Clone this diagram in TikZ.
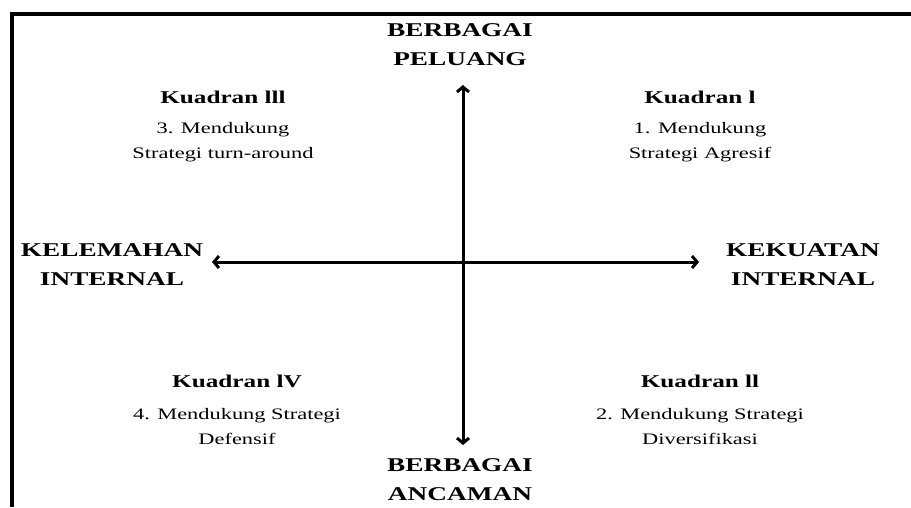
\documentclass[tikz,border=0pt]{standalone}
\usepackage{fontspec}
\setmainfont[FakeStretch=1.4]{Liberation Serif}
\usetikzlibrary{arrows.meta}

\begin{document}
\begin{tikzpicture}[x=1pt, y=-1pt,
    sumbu/.style={draw=black, line width=3pt,
                  {Straight Barb[length=5pt, width=12pt]}-{Straight Barb[length=5pt, width=12pt]}},
    bingkai/.style={draw=black, line width=3.5pt},
    arah/.style={align=center, inner sep=0pt,
                 font=\fontsize{19.5}{29}\selectfont\bfseries},
    kuadran/.style={align=center, inner sep=0pt,
                    font=\fontsize{18}{22}\selectfont\bfseries},
    isi/.style={align=center, inner sep=0pt,
                font=\fontsize{16}{25}\selectfont},
]
\useasboundingbox (0,0) rectangle (911,507);

% Bingkai
\draw[bingkai] (12,507) -- (12,14) -- (911,14);

% Label sumbu
\node[arah] (peluang) at (460,45) {BERBAGAI\\PELUANG};
\node[arah] (ancaman) at (460,480) {BERBAGAI\\ANCAMAN};
\node[arah] (kelemahan) at (112,265) {KELEMAHAN\\INTERNAL};
\node[arah] (kekuatan) at (803,265) {KEKUATAN\\INTERNAL};

% Ujung sumbu
\coordinate (atas) at (463,85);
\coordinate (bawah) at (463,445);
\coordinate (kiri) at (212,262);
\coordinate (kanan) at (699,262);

\draw[sumbu] (kiri) -- (kanan);
\draw[sumbu] (atas) -- (bawah);

% Kuadran
\node[kuadran] (judul3) at (223,97) {Kuadran lll};
\node[isi] (isi3) at (223,142) {3. Mendukung\\Strategi turn-around};

\node[kuadran] (judul1) at (700,97) {Kuadran l};
\node[isi] (isi1) at (700,142) {1. Mendukung\\Strategi Agresif};

\node[kuadran] (judul4) at (237,381) {Kuadran lV};
\node[isi] (isi4) at (237,427) {4. Mendukung Strategi\\Defensif};

\node[kuadran] (judul2) at (700,381) {Kuadran ll};
\node[isi] (isi2) at (700,427) {2. Mendukung Strategi\\Diversifikasi};

\end{tikzpicture}
\end{document}
